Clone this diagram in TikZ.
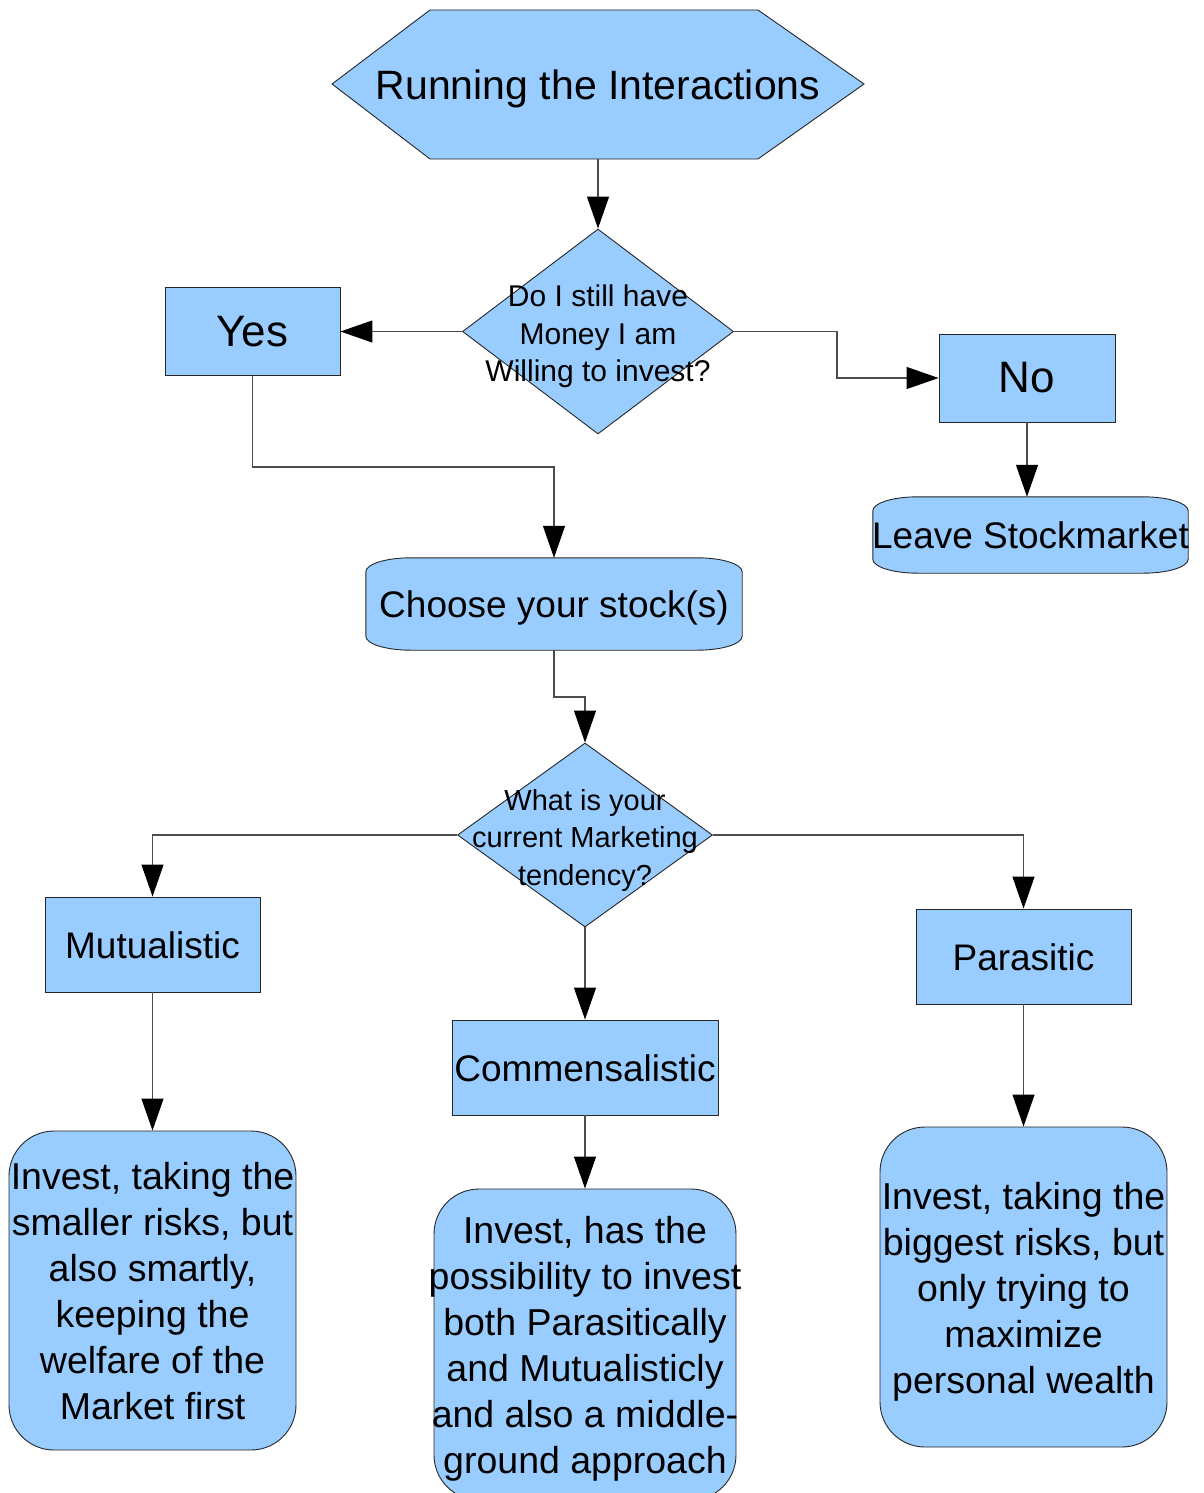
\documentclass[tikz,border=0pt]{standalone}
\usepackage{fontspec}
\setmainfont{Liberation Sans}
\usepackage{xcolor}
\usetikzlibrary{shapes.geometric,arrows.meta,backgrounds}

\definecolor{boxblue}{HTML}{99CCFF}
\newcommand\fsz[2]{\fontsize{#1}{#2}\selectfont}
\newcommand\ctext[1]{\makebox[0pt]{\raisebox{-5pt}[\height][\depth]{\begin{tabular}{@{}c@{}}#1\end{tabular}}}}
% outline with flat elliptic corners, drawn behind a named node
\newcommand\tapeoutline[1]{%
  \path[box] ([yshift=-14pt]#1.north west)
    arc[start angle=180,end angle=90,x radius=45pt,y radius=14pt]
    -- ([xshift=-45pt]#1.north east)
    arc[start angle=90,end angle=0,x radius=45pt,y radius=14pt]
    -- ([yshift=14pt]#1.south east)
    arc[start angle=0,end angle=-90,x radius=45pt,y radius=14pt]
    -- ([xshift=45pt]#1.south west)
    arc[start angle=270,end angle=180,x radius=45pt,y radius=14pt]
    -- cycle;}

\tikzset{
  box/.style={draw=black!85, line width=0.9pt, fill=boxblue, inner sep=0pt},
  plainbox/.style={box, rectangle},
  decision/.style={box, diamond},
  roundbox/.style={box, rectangle, rounded corners=45pt},
  conn/.style={draw=black!70, line width=1.2pt,
    -{Triangle[length=32pt,width=22pt,color=black]}}
}

\begin{document}
\begin{tikzpicture}[x=1pt,y=-1pt]
    \useasboundingbox (0,0) rectangle (1204,1493);
    \clip (0,0) rectangle (1204,1493);

    % Start
    \path[box] (332,84) -- (430,10) -- (758,10) -- (864,84) -- (758,159) -- (430,159) -- cycle;
    \node[minimum height=149pt, inner sep=0pt, font={\fsz{41}{48}}] (run) at (598,84.5) {\ctext{Running the Interactions}};

    % First question
    \node[decision, minimum width=271pt, minimum height=205pt, font={\fsz{30}{37.5}}] (money) at (598,331.5)
        {\ctext{Do I still have\\Money I am\\Willing to invest?}};

    % Answers
    \node[plainbox, minimum width=175pt, minimum height=88pt, font={\fsz{44}{50}}] (yes) at (252.5,331.5) {Yes};
    \node[plainbox, minimum width=176pt, minimum height=88pt, font={\fsz{44}{50}}] (no) at (1027,378) {No};

    % Leave / choose
    \node[minimum width=315pt, minimum height=76pt, inner sep=0pt, font={\fsz{37}{44}}] (leave) at (1030.5,535) {\ctext{Leave Stockmarket}};
    \node[minimum width=376pt, minimum height=92pt, inner sep=0pt, font={\fsz{37}{44}}] (choose) at (554,604) {\ctext{Choose your stock(s)}};
    \begin{scope}[on background layer]
        \tapeoutline{leave}
        \tapeoutline{choose}
    \end{scope}

    % Second question
    \node[decision, minimum width=255pt, minimum height=184pt, font={\fsz{29}{37.5}}] (tendency) at (585,835)
        {\ctext{What is your\\current Marketing\\tendency?}};

    % Kinds
    \node[plainbox, minimum width=215pt, minimum height=95pt, font={\fsz{37}{44}}] (mutual) at (152.5,944.5) {\ctext{Mutualistic}};
    \node[plainbox, minimum width=266pt, minimum height=95pt, font={\fsz{37}{44}}] (commens) at (585,1067.5) {\ctext{Commensalistic}};
    \node[plainbox, minimum width=215pt, minimum height=95pt, font={\fsz{37}{44}}] (parasit) at (1023.5,956.5) {\ctext{Parasitic}};

    % Outcomes
    \node[roundbox, minimum width=287pt, minimum height=319pt, font={\fsz{37.5}{46}}] (mutinvest) at (152.5,1290.5)
        {\ctext{Invest, taking the\\smaller risks, but\\also smartly,\\keeping the\\welfare of the\\Market first}};
    \node[roundbox, minimum width=302pt, minimum height=311pt, font={\fsz{37.5}{46}}] (cominvest) at (585,1344.5)
        {\ctext{Invest, has the\\possibility to invest\\both Parasitically\\and Mutualisticly\\and also a middle-\\ground approach}};
    \node[roundbox, minimum width=287pt, minimum height=320pt, font={\fsz{37.5}{46}}] (parinvest) at (1023.5,1287)
        {\ctext{Invest, taking the\\biggest risks, but\\only trying to\\maximize\\personal wealth}};

    % Connectors
    \coordinate (nobend) at (837,331.5);
    \coordinate (yesbend) at (554,467);
    \coordinate (choosebend) at (554,697);
    \draw[conn] (run) -- (money);
    \draw[conn] (money.west) -- (yes.east);
    \draw[conn] (money.east) -- (nobend) |- (no.west);
    \draw[conn] (no.south) -- (no.south |- leave.north);
    \draw[conn] (yes.south) |- (yesbend) -- (choose.north);
    \draw[conn] (choose.south) -- (choosebend) -| (tendency.north);
    \draw[conn] (tendency.west) -| (mutual.north);
    \draw[conn] (tendency.east) -| (parasit.north);
    \draw[conn] (tendency.south) -- (commens.north);
    \draw[conn] (mutual) -- (mutinvest);
    \draw[conn] (commens) -- (cominvest);
    \draw[conn] (parasit) -- (parinvest);
\end{tikzpicture}
\end{document}
